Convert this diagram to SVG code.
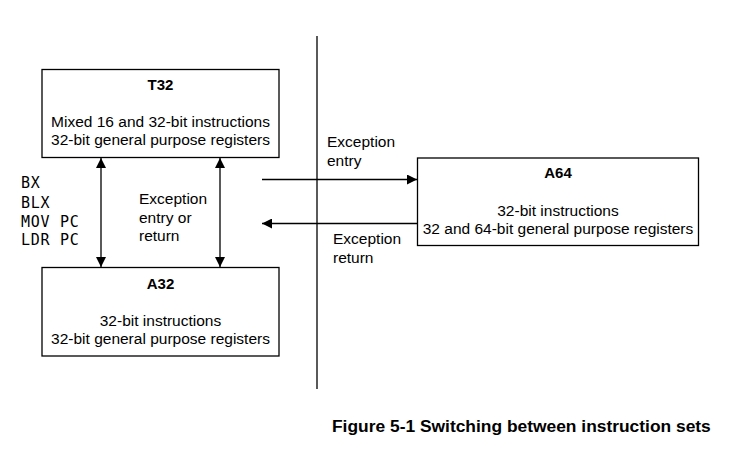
<svg xmlns="http://www.w3.org/2000/svg" width="731" height="451" viewBox="0 0 731 451">
<style>
.box{fill:#fff;stroke:#000;stroke-width:1.3}
.t{font-family:"Liberation Sans",Arial,sans-serif;font-size:15.5px;fill:#000}
.b{font-weight:bold;font-size:15px}
.m{font-family:"DejaVu Sans Mono","Liberation Mono",monospace;font-size:15px;letter-spacing:0.7px;fill:#000}
.ln{stroke:#000;stroke-width:1.3;fill:none}
</style>
<defs>
<marker id="ah" viewBox="0 0 10 10" refX="10" refY="5" markerWidth="10" markerHeight="10" markerUnits="userSpaceOnUse" orient="auto-start-reverse">
<path d="M0,0 L10,5 L0,10 z" fill="#000"/>
</marker>
</defs>
<g id="divider"><line class="ln" x1="317" y1="36" x2="317" y2="389"/></g>
<g id="connectors">
<line class="ln" x1="101" y1="158" x2="101" y2="267" marker-start="url(#ah)" marker-end="url(#ah)"/>
<line class="ln" x1="220" y1="158" x2="220" y2="267" marker-start="url(#ah)" marker-end="url(#ah)"/>
<line class="ln" x1="262" y1="179.5" x2="417" y2="179.5" marker-end="url(#ah)"/>
<line class="ln" x1="417" y1="223.5" x2="262" y2="223.5" marker-end="url(#ah)"/>
</g>
<g id="T32">
<rect class="box" x="42" y="69.5" width="237" height="88"/>
<text class="t b" x="160.5" y="90" text-anchor="middle">T32</text>
<text class="t" x="160.5" y="126.5" text-anchor="middle">Mixed 16 and 32-bit instructions</text>
<text class="t" x="160.5" y="145" text-anchor="middle">32-bit general purpose registers</text>
</g>
<g id="A32">
<rect class="box" x="42" y="267.5" width="237" height="88.5"/>
<text class="t b" x="160.5" y="288.5" text-anchor="middle">A32</text>
<text class="t" x="160.5" y="325.5" text-anchor="middle">32-bit instructions</text>
<text class="t" x="160.5" y="344" text-anchor="middle">32-bit general purpose registers</text>
</g>
<g id="A64">
<rect class="box" x="417.5" y="158" width="281" height="87.5"/>
<text class="t b" x="558" y="178" text-anchor="middle">A64</text>
<text class="t" x="558" y="215.5" text-anchor="middle">32-bit instructions</text>
<text class="t" x="558" y="233.5" text-anchor="middle">32 and 64-bit general purpose registers</text>
</g>
<g id="labels">
<text class="m" x="21" y="188">BX</text>
<text class="m" x="21" y="207.5">BLX</text>
<text class="m" x="21" y="226.5" xml:space="preserve">MOV PC</text>
<text class="m" x="21" y="244.5" xml:space="preserve">LDR PC</text>
<text class="t" x="139" y="204">Exception</text>
<text class="t" x="139" y="223">entry or</text>
<text class="t" x="139" y="241">return</text>
<text class="t" x="327" y="146.5">Exception</text>
<text class="t" x="327" y="165.5">entry</text>
<text class="t" x="333" y="244">Exception</text>
<text class="t" x="333" y="262.5">return</text>
</g>
<text class="t b" x="332" y="432" style="font-size:17.4px">Figure 5-1 Switching between instruction sets</text>
</svg>
